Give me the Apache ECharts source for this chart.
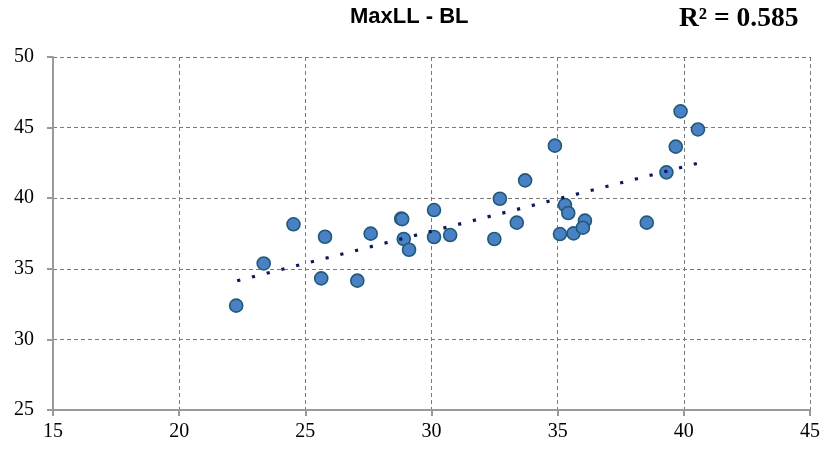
<!DOCTYPE html>
<html>
<head>
<meta charset="utf-8">
<script src="https://cdn.jsdelivr.net/npm/echarts@6/dist/echarts.min.js"></script>
<style>
html,body{margin:0;padding:0;background:#fff;}
#chart{width:823px;height:450px;}
</style>
</head>
<body>
<div id="chart"></div>
<script>
const chartTitle = 'MaxLL - BL';
const r2Label = 'R² = 0.585';
const xValues = [22.26, 23.35, 24.53, 25.63, 25.78, 27.06, 27.59, 28.80, 28.84, 28.90, 29.11, 30.10, 30.10, 30.74, 32.49, 32.71, 33.38, 33.71, 34.89, 35.29, 35.42, 35.09, 35.63, 36.08, 36.00, 38.53, 39.31, 39.68, 39.87, 40.56];
const yValues = [32.39, 35.38, 38.15, 34.32, 37.27, 34.16, 37.49, 38.55, 38.52, 37.11, 36.35, 39.16, 37.25, 37.39, 37.11, 39.96, 38.27, 41.26, 43.72, 39.52, 38.95, 37.46, 37.51, 38.41, 37.91, 38.27, 41.83, 43.65, 46.15, 44.87];
const trendX = [22.30, 40.56];
const trendY = [34.15, 42.48];
const xTicks = [15, 20, 25, 30, 35, 40, 45];
const yTicks = [25, 30, 35, 40, 45, 50];

const points = xValues.map((x, i) => [x, yValues[i]]);
const trend = trendX.map((x, i) => [x, trendY[i]]);

const chart = echarts.init(document.getElementById('chart'), null, {renderer: 'canvas'});
const axisCommon = {
  type: 'value',
  interval: 5,
  axisLine: {show: true, onZero: false, lineStyle: {color: '#9a9a9a', width: 2}},
  axisTick: {show: true, length: 6, inside: false, lineStyle: {color: '#9a9a9a', width: 2}},
  splitLine: {show: true, lineStyle: {color: '#7a7a7a', width: 1, type: [4, 3]}},
  axisLabel: {color: '#000', fontFamily: 'Liberation Serif', fontSize: 20}
};
chart.setOption({
  animation: false,
  backgroundColor: '#ffffff',
  grid: {left: 53, right: 11, top: 57, bottom: 40, containLabel: false,
         show: true, borderWidth: 0},
  graphic: [
    {type: 'text', left: 350, top: 6,
     style: {text: chartTitle, fontFamily: 'Liberation Sans', fontWeight: 'bold', fontSize: 22, fill: '#000'}},
    {type: 'text', left: 679, top: 5,
     style: {text: r2Label, fontFamily: 'Liberation Serif', fontWeight: 'bold', fontSize: 27.5, fill: '#000'}}
  ],
  xAxis: Object.assign({}, axisCommon, {min: xTicks[0], max: xTicks[xTicks.length - 1],
    axisLabel: Object.assign({}, axisCommon.axisLabel, {margin: 12})}),
  yAxis: Object.assign({}, axisCommon, {min: yTicks[0], max: yTicks[yTicks.length - 1],
    axisLabel: Object.assign({}, axisCommon.axisLabel, {margin: 19})}),
  series: [
    {
      type: 'scatter',
      data: points,
      symbol: 'circle',
      symbolSize: 13,
      itemStyle: {color: '#4a80c4', borderColor: '#1f5a78', borderWidth: 1.6, opacity: 1},
      z: 2
    },
    {
      type: 'line',
      data: trend,
      showSymbol: false,
      symbol: 'none',
      lineStyle: {color: '#0b1a5c', width: 3.2, type: [3.2, 12], cap: 'butt'},
      z: 3
    }
  ]
});
</script>
</body>
</html>
